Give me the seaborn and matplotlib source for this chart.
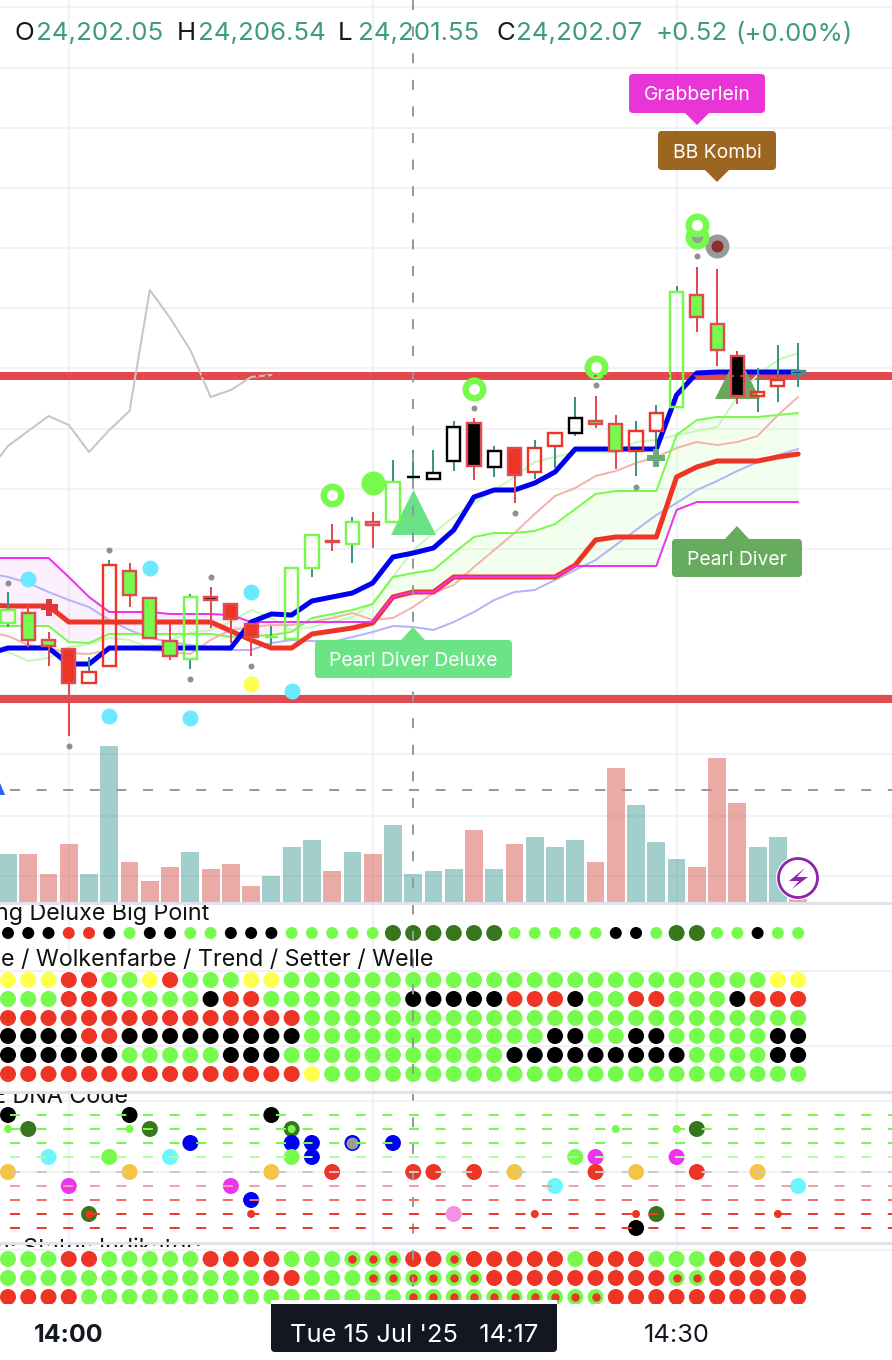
import numpy as np
import matplotlib
matplotlib.use("Agg")
import matplotlib.pyplot as plt
from matplotlib.patches import Circle, FancyBboxPatch, Rectangle
import seaborn as sns

sns.set_style("white")
plt.rcParams['font.family'] = ['Inter', 'DejaVu Sans']

W, H = 892, 1360
FIRST_BAR_PX, BAR_PX = 8.0, 20.26

bars = np.arange(40)

# candles, in screen pixels
body_top = [609, 612, 639, 648, 671, 564, 570, 597, 640, 596, 596, 603, 623, 636, 567, 534, 540, 521, 521, 481,
            476, 472, 426, 422, 450, 447, 447, 432, 417, 420, 423, 430, 412, 291, 294, 323, 355, 391, 379, 370]
body_bot = [624, 641, 647, 684, 684, 667, 596, 639, 657, 660, 601, 620, 638, 638, 640, 569, 543, 545, 526, 523,
            478, 480, 462, 467, 468, 476, 473, 447, 434, 425, 452, 452, 432, 408, 318, 351, 397, 397, 387, 375]
wick_high = [592, 606, 632, 648, 657, 560, 563, 597, 624, 594, 587, 603, 623, 626, 567, 534, 524, 517, 512, 460,
             450, 450, 421, 418, 446, 447, 440, 432, 397, 396, 415, 421, 405, 286, 267, 269, 351, 368, 345, 343]
wick_low = [627, 647, 666, 736, 684, 667, 607, 639, 660, 669, 628, 643, 656, 645, 640, 577, 551, 563, 548, 523,
            480, 480, 471, 480, 477, 503, 479, 468, 436, 428, 469, 476, 450, 408, 332, 366, 404, 412, 402, 387]
body_fill = ["n", "g", "g", "r", "n", "n", "g", "g", "g", "n", "k", "r", "r", "n", "n", "n", "d", "n", "g", "n",
             "n", "n", "n", "k", "n", "r", "n", "n", "n", "g", "g", "n", "n", "n", "g", "g", "k", "n", "n", "n"]
body_edge = ["g", "d", "d", "d", "r", "r", "d", "d", "d", "g", "d", "d", "d", "g", "g", "g", "d", "g", "d", "g",
             "k", "k", "k", "d", "k", "d", "r", "r", "k", "d", "d", "r", "r", "g", "d", "d", "d", "r", "r", "t"]
wick_col = ["t", "d", "d", "d", "t", "t", "d", "d", "d", "t", "d", "d", "d", "t", "t", "t", "d", "t", "d", "t",
            "t", "t", "t", "d", "t", "d", "t", "t", "t", "d", "d", "t", "t", "t", "d", "d", "d", "t", "t", "t"]

# moving lines, first value sits one bar left of the picture
line_x = np.arange(-1, 40)
blue_line = [654, 648, 648, 648, 664, 664, 648, 648, 648, 648, 648, 648, 648, 622, 614, 615, 601, 597, 593, 583, 557,
             553, 548, 530, 497, 490, 490, 483, 472, 449, 449, 449, 449, 449, 395, 373, 372, 372, 372, 372, 372]
red_line = [605, 606, 606, 606, 622, 622, 622, 622, 622, 622, 622, 622, 631, 640, 648, 648, 634, 631, 628, 623, 597,
            592, 592, 577, 577, 577, 577, 577, 577, 565, 540, 537, 537, 537, 477, 467, 461, 461, 461, 457, 454]
magenta_line = [558, 558, 558, 558, 577, 597, 612, 612, 612, 614, 614, 614, 615, 622, 622, 622, 622, 622, 622, 622, 597,
                592, 592, 577, 577, 577, 577, 577, 577, 566, 566, 566, 566, 566, 510, 502, 502, 502, 502, 502, 502]
green_line = [626, 626, 626, 626, 642, 643, 634, 634, 634, 634, 634, 634, 637, 636, 635, 632, 618, 614, 610, 604, 577,
              573, 570, 553, 537, 533, 533, 531, 524, 509, 494, 491, 491, 491, 435, 420, 417, 417, 417, 415, 413]
salmon_line = [632, 636, 645, 648, 653, 654, 650, 648, 650, 652, 654, 640, 630, 627, 625, 625, 622, 618, 613, 620, 618,
               607, 593, 585, 567, 550, 533, 514, 496, 488, 476, 471, 463, 457, 448, 442, 445, 442, 436, 415, 397]
lavender_line = [573, 577, 583, 592, 600, 607, 620, 630, 638, 642, 645, 648, 650, 650, 643, 640, 641, 642, 637, 632, 626,
                 627, 630, 622, 612, 600, 592, 590, 580, 570, 560, 545, 530, 515, 503, 490, 481, 471, 462, 455, 449]
pale_green_line = [645, 652, 661, 658, 647, 644, 638, 640, 648, 640, 633, 630, 622, 610, 618, 630, 627, 622, 617, 603, 577,
                   550, 533, 517, 503, 490, 477, 462, 457, 452, 452, 453, 442, 440, 435, 431, 427, 397, 375, 360, 353]
grey_x = np.arange(-1, 14)
grey_line = [472, 446, 431, 416, 425, 452, 430, 411, 290, 318, 350, 397, 390, 377, 375]

# study markers on the price pane: bar index, y pixel
small_grey_bar = [0, 3, 5, 9, 10, 12, 23, 25, 29, 31, 34]
small_grey_y = [583, 746, 550, 679, 577, 666, 408, 513, 385, 487, 256]
cyan_bar = [1, 5, 7, 9, 12, 14]
cyan_y = [579, 716, 568, 718, 592, 691]
ring_bar = [16, 23, 29, 34, 34]
ring_y = [495, 389, 367, 237, 225]
ring_core = ["#ffffff", "#ffffff", "#ffffff", "#9a9a9a", "#ffffff"]

# volume, bar heights in pixels above the pane floor
volume = [48, 48, 28, 58, 28, 156, 40, 21, 35, 50, 33, 38, 16, 26, 55, 62, 31, 50, 48, 77,
          28, 31, 33, 72, 33, 58, 65, 55, 62, 40, 134, 97, 60, 43, 35, 144, 99, 55, 65, 3]
volume_dir = ["up", "dn", "dn", "dn", "up", "up", "dn", "dn", "dn", "up", "dn", "dn", "dn", "up", "up", "up", "dn", "up", "dn", "up",
              "up", "up", "up", "dn", "up", "dn", "up", "up", "up", "dn", "dn", "up", "up", "up", "dn", "dn", "dn", "up", "up", "dn"]

big_point_y = 933
big_point = "kkkrrkgkkggkkkgggggDDDDDDgggggkkgDDggkgg"

wolke_y = [980, 999, 1018, 1036, 1055, 1074]
wolke_rows = [
    "yyyrrggyrgggyygggggggg" + "ggggggggggggggggyy",
    "gggrrrggggkrrgggggggkk" + "kkkrrrkggrrgggkrrr",
    "rrrrrrrrrrrrrrrggggggg" + "gggggggggggggggggg",
    "kkkkrrkkkkkkkkkggggggg" + "gggggkkggkkgggggkk",
    "kkkkkkgggggkkkgggggggg" + "gggkkkkkkkkkggggkk",
    "rrrrrrrrrrrrrrrygggggg" + "gggggggggggggggggg",
]

dna_y = [1115, 1129, 1143, 1157, 1172, 1186, 1200, 1214, 1228]
dna_col = ["#76f94c", "#76f94c", "#76f94c", "#aeffa0", "#c8c8c8", "#f4a0a0", "#ee7070", "#ee3a2c", "#ee3a2c"]
dna_bar = [0, 6, 13, 1, 7, 34, 14, 9, 14, 15, 17, 19, 2, 5, 8, 14, 15, 28, 29, 33,
           0, 6, 13, 16, 20, 21, 23, 25, 29, 31, 34, 37, 3, 11, 27, 39, 12, 4, 22, 32, 31]
dna_row = [0, 0, 0, 1, 1, 1, 1, 2, 2, 2, 2, 2, 3, 3, 3, 3, 3, 3, 3, 3,
           4, 4, 4, 4, 4, 4, 4, 4, 4, 4, 4, 4, 5, 5, 5, 5, 6, 7, 7, 7, 8]
dna_code = ["k", "k", "k", "D", "D", "D", "D", "B", "B", "B", "B", "B", "c", "g", "c", "g", "B", "g", "m", "m",
            "o", "o", "o", "r", "r", "r", "r", "o", "r", "o", "r", "o", "m", "m", "c", "c", "B", "D", "p", "D", "k"]
dna_small_bar = [0, 6, 14, 30, 33, 12, 26, 31, 38]
dna_small_row = [1, 1, 1, 1, 1, 7, 7, 7, 7]
dna_small_code = ["g", "g", "g", "g", "g", "r", "r", "r", "r"]

status_y = [1259, 1278, 1297]
status_rows = [
    "gggrrgggggrrrrgggxxxrrxrrrrrgrrrgggrrrrr",
    "gggggggggggggrrgggxxxxxxrrrrrrrrrxxrrrrr",
    "rrrrggggggggggggggggxxxxxxxxxxrrrrrrrrrr",
]

PAL = {"g": "#76fb4c", "y": "#ffff4d", "r": "#ee3424", "k": "#000000", "D": "#38761d", "B": "#0000f0",
       "c": "#6ef6ff", "o": "#f6c445", "m": "#ee33ee", "p": "#f093e6", "x": "#76fb4c"}
EDGE = {"g": "#76f94c", "d": "#e04a50", "r": "#ee3424", "k": "#000000", "t": "#3d9480"}
FILL = {"n": "none", "g": "#76fb4c", "r": "#ee3424", "k": "#000000", "d": "#e04a50"}
GREY = "#9598a1"
INK = "#131722"
TEAL = "#3f9a84"
BAND = "#e04a50"


def px_size(r):
    return (2 * r * 72 / 100) ** 2


def dots(axis, x, y, colour, r, z, marker="o"):
    sns.scatterplot(x=x, y=y, color=colour, s=px_size(r), linewidth=0, marker=marker, ax=axis, zorder=z, legend=False)


def code_dots(axis, x, y, codes, r, z):
    sns.scatterplot(x=x, y=y, hue=codes, palette=PAL, s=px_size(r), linewidth=0, ax=axis, zorder=z, legend=False)


def draw_line(x, y, colour, w, z):
    sns.lineplot(x=x, y=y, color=colour, linewidth=w * 0.72, estimator=None, sort=False, ax=ax, zorder=z,
                 legend=False, solid_joinstyle="round")


fig = plt.figure(figsize=(W / 100, H / 100), dpi=100, facecolor="white")
ax_bg = fig.add_axes([0, 0, 1, 1], zorder=0)
ax_vol = fig.add_axes([0, (H - 902) / H, 1, 902 / H], zorder=1)
ax = fig.add_axes([0, 0, 1, 1], zorder=2)
ax_px = fig.add_axes([0, 0, 1, 1], zorder=3)

# grid
for y in [7, 68, 128, 188, 248, 308, 368, 429, 489, 549, 695, 754, 816, 876, 971, 1046, 1101, 1172, 1250]:
    ax_bg.axhline(y, color="#f1f2f4", lw=1.5, zorder=1)
for x in [69, 373, 677]:
    ax_bg.axvline(x, color="#f1f2f4", lw=1.5, zorder=1)

# volume
sns.barplot(x=bars, y=volume, hue=volume_dir, palette={"up": "#46a098", "dn": "#d75951"}, alpha=0.5, native_scale=True,
            width=0.88, dodge=False, legend=False, linewidth=0, saturation=1, ax=ax_vol)

# levels and cloud
ax.axhline(376, color=BAND, lw=8 * 0.72, zorder=1)
ax.axhline(699, color=BAND, lw=8 * 0.72, zorder=1)
mag, grn = np.array(magenta_line, float), np.array(green_line, float)
ax.fill_between(line_x, mag, grn, where=mag <= grn, interpolate=True, color="#ee33ee", alpha=0.07, lw=0, zorder=1.5)
ax.fill_between(line_x, mag, grn, where=mag >= grn, interpolate=True, color="#76fb4c", alpha=0.09, lw=0, zorder=1.5)

draw_line(grey_x, grey_line, "#c6c6c6", 2, 2)
draw_line(line_x, lavender_line, "#b4b4f6", 2, 2)
draw_line(line_x, pale_green_line, "#c6f8ba", 2, 2)
draw_line(line_x, salmon_line, "#f2b4ac", 2, 2)
draw_line(line_x, green_line, "#76fb4c", 2, 3)
draw_line(line_x, red_line, "#ee3424", 5, 3.1)
draw_line(line_x, magenta_line, "#ee33ee", 2, 3.2)
draw_line(line_x, blue_line, "#0000f0", 5, 3.3)

# triangles behind the candles
dots(ax, [20], [512], "#68e187", 22.5, 3.5, marker="^")
dots(ax, [36], [376], "#6aa85f", 22.5, 3.5, marker="^")

# candles, wicks stop at the body since hollow bodies are see through
top, bot = np.array(body_top, float), np.array(body_bot, float)
wick_colours = [EDGE[c] for c in wick_col]
ax.vlines(bars, wick_high, top, colors=wick_colours, lw=2 * 0.72, zorder=4)
ax.vlines(bars, bot, wick_low, colors=wick_colours, lw=2 * 0.72, zorder=4)
ax.bar(bars, bot - top - 2, bottom=top + 1, width=13.2 / BAR_PX, facecolor=[FILL[c] for c in body_fill],
       edgecolor=[EDGE[c] for c in body_edge], linewidth=2.4 * 0.72, zorder=5)

# study markers
dots(ax, small_grey_bar, small_grey_y, "#8f8f8f", 3, 6)
dots(ax, cyan_bar, cyan_y, "#6ce8ff", 8, 6)
dots(ax, [12], [684], "#ffff4d", 8, 6)
dots(ax, [18], [483], "#76fb4c", 12, 6)
for i in range(len(ring_bar)):
    dots(ax, [ring_bar[i]], [ring_y[i]], "#76fb4c", 12, 6 + i * 0.01)
    dots(ax, [ring_bar[i]], [ring_y[i]], ring_core[i], 5.5, 6.005 + i * 0.01)
dots(ax, [35], [246], "#999999", 12, 6)
dots(ax, [35], [246], "#8b3028", 6, 6.1)
dots(ax, [2], [607], "#e0383a", 8.5, 4.5, marker="P")
dots(ax, [32], [458], "#66ae74", 9, 6, marker="P")
ax.axhline(375.5, color="#f23a2a", lw=1.4, linestyle=(0, (1.5, 3.2)), zorder=7)

# big point row
small_mask = [c != "D" for c in big_point]
big_mask = [c == "D" for c in big_point]
code_dots(ax, bars[small_mask], [big_point_y] * sum(small_mask), [c for c in big_point if c != "D"], 6, 6)
code_dots(ax, bars[big_mask], [big_point_y] * sum(big_mask), ["D"] * sum(big_mask), 8, 6)

# wolke rows
for y, row in zip(wolke_y, wolke_rows):
    code_dots(ax, bars, [y] * 40, list(row), 8, 6)

# dna rows
dna_ys = [dna_y[r] for r in dna_row]
code_dots(ax, dna_bar, dna_ys, dna_code, 8, 6)
dots(ax, [4], [1214], "#ee3424", 4, 6.1)
dots(ax, [17], [1143], "#9a9a9a", 6, 6.1)
code_dots(ax, dna_small_bar, [dna_y[r] for r in dna_small_row], dna_small_code, 4, 6.1)

# status rows
for y, row in zip(status_y, status_rows):
    code_dots(ax, bars, [y] * 40, list(row), 8, 6)
    ring_bars = [i for i, c in enumerate(row) if c == "x"]
    dots(ax, ring_bars, [y] * len(ring_bars), "#ee3424", 4.2, 6.1)

# screen furniture on top
dash = (0, (5, 8.3))
ax_px.plot([10, W], [790, 790], color=GREY, lw=1.44, linestyle=dash, zorder=2)
ax_px.fill([0, 5, 0], [783, 795, 795], color="#2962ff", lw=0, zorder=2)
ax_px.plot([413, 413], [0, 1304], color=GREY, lw=1.44, linestyle=dash, zorder=2)
for y, c in zip(dna_y, dna_col):
    ax_px.plot([10, W], [y, y], color=c, lw=1.44, linestyle=dash, zorder=2)
for y in [903, 1092, 1243]:
    ax_px.axhline(y, color="#e0e3eb", lw=2.2, zorder=3)


def pane_text(right, base, label, clip=None):
    t = ax_px.text(right, base, label, ha="right", va="baseline", fontsize=16.8, color="#111111", zorder=2.5)
    if clip:
        t.set_clip_path(Rectangle((0, clip[0]), W, clip[1] - clip[0], transform=ax_px.transData))
        t.set_clip_on(True)


pane_text(209, 920, "ng Deluxe Big Point")
pane_text(433, 966, "e / Wolkenfarbe / Trend / Setter / Welle")
pane_text(128, 1103, "E DNA Code", clip=(1092, 1247))
pane_text(202, 1255, "n: Status Indikator:", clip=(1092, 1247))


def callout(x0, x1, y0, y1, colour, label, tip_x, tip_y, z=5):
    ax_px.add_patch(FancyBboxPatch((x0, y0), x1 - x0, y1 - y0, boxstyle="round,pad=0,rounding_size=4", fc=colour, ec="none",
                                   zorder=z))
    base = y1 if tip_y > y1 else y0
    ax_px.fill([tip_x - 12, tip_x + 12, tip_x], [base, base, tip_y], color=colour, lw=0, zorder=z)
    ax_px.text((x0 + x1) / 2, (y0 + y1) / 2 + 2, label, ha="center", va="center", color="white", fontsize=13.9, zorder=z + 0.1)


callout(629, 765, 74, 113, "#ea35d6", "Grabberlein", 697, 125)
callout(658, 776, 131, 170, "#9c6520", "BB Kombi", 717, 182)
callout(672, 802, 539, 577, "#66ab5e", "Pearl Diver", 737, 526)
callout(315, 512, 640, 678, "#6ae485", "Pearl Diver Deluxe", 413, 627)

# header
header = [(14, "O", INK), (36, "24,202.05", TEAL), (177, "H", INK), (198, "24,206.54", TEAL), (338, "L", INK),
          (358, "24,201.55", TEAL), (496, "C", INK), (516, "24,202.07", TEAL), (656, "+0.52", TEAL), (735, "(+0.00%)", TEAL)]
for x, label, c in header:
    ax_px.text(x, 34, label, ha="left", va="center", fontsize=18.6, color=c, zorder=6)

# signal badge
ax_px.add_patch(Circle((798, 878), 22, fc="white", ec="none", zorder=4))
ax_px.add_patch(Circle((798, 878), 19.5, fc="white", ec="#8e24aa", lw=2, zorder=4.1))
ax_px.fill([805, 789, 799, 792, 808, 797], [868, 881, 881, 889, 877, 877], color="#8e24aa", lw=0, zorder=4.2)

# time axis
ax_px.add_patch(Rectangle((0, 1304), W, H - 1304, fc="white", ec="none", zorder=3.5))
ax_px.add_patch(FancyBboxPatch((271, 1300), 286, 52, boxstyle="round,pad=0,rounding_size=4", fc=INK, ec="none", zorder=4))
ax_px.add_patch(Rectangle((271, 1300), 286, 4, fc="white", ec="none", zorder=4.05))
ax_px.text(69, 1335, "14:00", ha="center", va="center", fontsize=18, fontweight="bold", color=INK, zorder=5)
ax_px.text(677, 1335, "14:30", ha="center", va="center", fontsize=18.3, color=INK, zorder=5)
ax_px.text(414, 1335, "Tue 15 Jul '25   14:17", ha="center", va="center", fontsize=18.3, color="white", zorder=5)

# scales
index_lim = (-FIRST_BAR_PX / BAR_PX, (W - FIRST_BAR_PX) / BAR_PX)
ax.set_xlim(index_lim)
ax.set_ylim(H, 0)
ax_vol.set_xlim(index_lim)
ax_vol.set_ylim(0, 902)
for a in (ax_bg, ax_px):
    a.set_xlim(0, W)
    a.set_ylim(H, 0)
for a in (ax_bg, ax_vol, ax, ax_px):
    a.axis("off")
    a.patch.set_alpha(0)

fig.savefig("out.png", dpi=100, facecolor="white")
